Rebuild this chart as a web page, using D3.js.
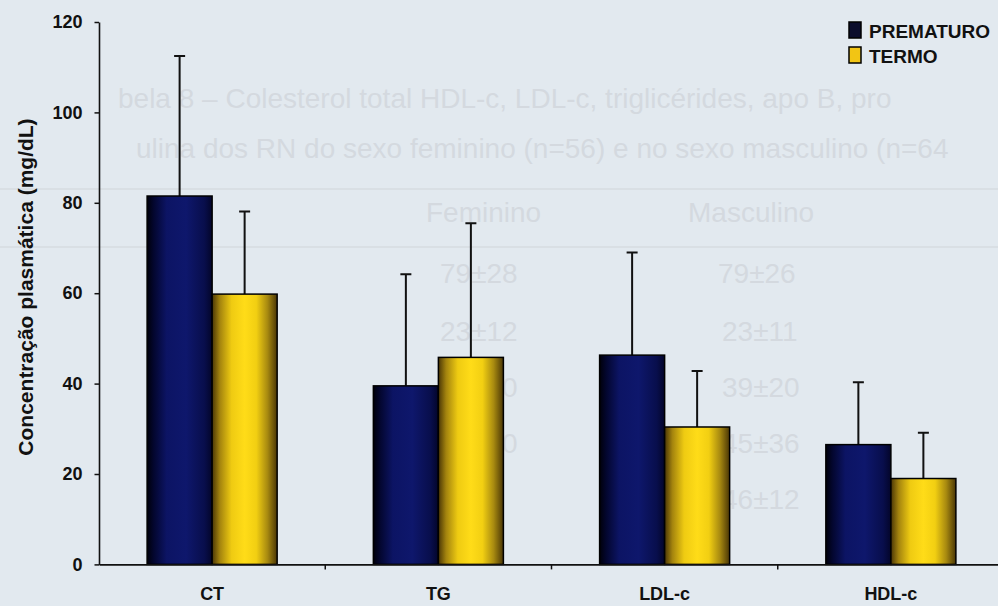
<!DOCTYPE html>
<html>
<head>
<meta charset="utf-8">
<script src="https://cdn.jsdelivr.net/npm/d3@7"></script>
<style>
  body { margin: 0; background: #e2e9ef; }
  svg { display: block; font-family: "Liberation Sans", Arial, sans-serif; }
</style>
</head>
<body>
<script>
// Chart data
var categories = ["CT", "TG", "LDL-c", "HDL-c"];
var seriesNames = ["PREMATURO", "TERMO"];
var prematuro = [81.5, 39.5, 46.3, 26.5];
var termo = [59.8, 45.8, 30.4, 19.0];
var prematuroSD = [31.0, 24.7, 22.7, 13.8];
var termoSD = [18.3, 29.7, 12.4, 10.1];
var yTicks = [0, 20, 40, 60, 80, 100, 120];
var yLabel = "Concentração plasmática (mg/dL)";

// faint text of the scanned page showing through behind the chart
var ghostLines = [
  { x: 118, y: 108, t: "bela 8 – Colesterol total HDL-c, LDL-c, triglicérides, apo B, pro" },
  { x: 136, y: 158, t: "ulina dos RN do sexo feminino (n=56) e no sexo masculino (n=64" },
  { x: 426, y: 222, t: "Feminino" },
  { x: 688, y: 222, t: "Masculino" },
  { x: 440, y: 283, t: "79±28" },
  { x: 718, y: 283, t: "79±26" },
  { x: 440, y: 341, t: "23±12" },
  { x: 722, y: 341, t: "23±11" },
  { x: 440, y: 397, t: "39±30" },
  { x: 722, y: 397, t: "39±20" },
  { x: 440, y: 453, t: "45±30" },
  { x: 722, y: 453, t: "45±36" },
  { x: 462, y: 509, t: "± 6" },
  { x: 722, y: 509, t: "46±12" }
];

var svgWidth = 998;
var svgHeight = 606;

var margin = { top: 22, right: 0, bottom: 42, left: 99 };
var chartWidth = 905;
var chartHeight = 564.4 - margin.top;

var svg = d3.select("body")
  .append("svg")
  .attr("width", svgWidth)
  .attr("height", svgHeight);

svg.append("rect")
  .attr("width", svgWidth)
  .attr("height", svgHeight)
  .attr("fill", "#e2e9ef");

// background page text
var ghost = svg.append("g")
  .attr("fill", "#d4d9df")
  .attr("font-size", 28);
ghost.selectAll("text")
  .data(ghostLines)
  .enter()
  .append("text")
  .attr("x", d => d.x)
  .attr("y", d => d.y)
  .text(d => d.t);
ghost.selectAll("line")
  .data([189, 247])
  .enter()
  .append("line")
  .attr("x1", 0)
  .attr("x2", svgWidth)
  .attr("y1", d => d)
  .attr("y2", d => d)
  .attr("stroke", "#d6dbe1")
  .attr("stroke-width", 1.5);

// bar gradients
var defs = svg.append("defs");
var gradPre = defs.append("linearGradient").attr("id", "gPre");
[["0%", "#00000a"], ["10%", "#03062e"], ["30%", "#0c1464"], ["60%", "#0e176c"], ["88%", "#080e4c"], ["100%", "#03052a"]]
  .forEach(s => gradPre.append("stop").attr("offset", s[0]).attr("stop-color", s[1]));
var gradTer = defs.append("linearGradient").attr("id", "gTer");
[["0%", "#4a3606"], ["12%", "#a4840e"], ["30%", "#efcb12"], ["50%", "#ffdc18"], ["68%", "#f2cf12"], ["85%", "#a88a10"], ["100%", "#4a3606"]]
  .forEach(s => gradTer.append("stop").attr("offset", s[0]).attr("stop-color", s[1]));
var fills = ["url(#gPre)", "url(#gTer)"];

var chartGroup = svg.append("g")
  .attr("transform", `translate(${margin.left}, ${margin.top})`);

// scales
var x0 = d3.scaleBand()
  .domain(categories)
  .range([0, chartWidth])
  .padding(0);

var x1 = d3.scaleBand()
  .domain(seriesNames)
  .range([0, x0.bandwidth()])
  .paddingInner(0)
  .paddingOuter(0.74);

var y = d3.scaleLinear()
  .domain([0, 120])
  .range([chartHeight, 0]);

var rows = categories.map((c, i) => ({
  cat: c,
  values: [
    { s: seriesNames[0], v: prematuro[i], sd: prematuroSD[i] },
    { s: seriesNames[1], v: termo[i], sd: termoSD[i] }
  ]
}));

var groups = chartGroup.selectAll(".grp")
  .data(rows)
  .enter()
  .append("g")
  .attr("class", "grp")
  .attr("transform", d => `translate(${x0(d.cat)}, 0)`);

// error bars (upper only)
groups.selectAll(".err")
  .data(d => d.values)
  .enter()
  .append("path")
  .attr("class", "err")
  .attr("d", d => {
    var cx = x1(d.s) + x1.bandwidth() / 2;
    return `M${cx},${y(d.v)}V${y(d.v + d.sd)}M${cx - 5.5},${y(d.v + d.sd)}H${cx + 5.5}`;
  })
  .attr("stroke", "#111")
  .attr("stroke-width", 2)
  .attr("fill", "none");

groups.selectAll("rect")
  .data(d => d.values)
  .enter()
  .append("rect")
  .attr("x", d => x1(d.s))
  .attr("y", d => y(d.v))
  .attr("width", x1.bandwidth())
  .attr("height", d => chartHeight - y(d.v))
  .attr("fill", (d, i) => fills[i])
  .attr("stroke", "#000")
  .attr("stroke-width", 1.5);

// axes
var leftAxis = d3.axisLeft(y)
  .tickValues(yTicks)
  .tickSize(4.5)
  .tickSizeOuter(0)
  .tickPadding(12);

var yAxisG = chartGroup.append("g").call(leftAxis);

var bottomAxis = d3.axisBottom(x0)
  .tickSize(0)
  .tickSizeOuter(0)
  .tickPadding(23);

var xAxisG = chartGroup.append("g")
  .attr("transform", `translate(0, ${chartHeight})`)
  .call(bottomAxis);

// small ticks between categories
xAxisG.selectAll(".sep")
  .data(categories.slice(1))
  .enter()
  .append("line")
  .attr("class", "sep")
  .attr("x1", d => x0(d))
  .attr("x2", d => x0(d))
  .attr("y1", 0)
  .attr("y2", 5)
  .attr("stroke", "#111")
  .attr("stroke-width", 1.5);

[yAxisG, xAxisG].forEach(g => {
  g.select(".domain").attr("stroke", "#111").attr("stroke-width", 1.6);
  g.selectAll(".tick line").attr("stroke", "#111").attr("stroke-width", 1.5);
  g.selectAll("text")
    .attr("fill", "#111")
    .attr("font-family", "'Liberation Sans', Arial, sans-serif")
    .attr("font-weight", "bold")
    .attr("font-size", 18);
});

// y axis title
svg.append("text")
  .attr("transform", "translate(33, 287) rotate(-90)")
  .attr("text-anchor", "middle")
  .attr("font-size", 21)
  .attr("font-weight", "bold")
  .attr("fill", "#111")
  .text(yLabel);

// legend
var legend = svg.append("g")
  .attr("transform", "translate(849, 22)");
var legendItems = legend.selectAll("g")
  .data(seriesNames)
  .enter()
  .append("g")
  .attr("transform", (d, i) => `translate(0, ${i * 25})`);
legendItems.append("rect")
  .attr("width", 12)
  .attr("height", 16)
  .attr("fill", (d, i) => i === 0 ? "#0a0c2c" : "#f2c514")
  .attr("stroke", "#000")
  .attr("stroke-width", 1.5);
legendItems.append("text")
  .attr("x", 20)
  .attr("y", 16)
  .attr("font-size", 19)
  .attr("font-weight", "bold")
  .attr("fill", "#111")
  .text(d => d);
</script>
</body>
</html>
